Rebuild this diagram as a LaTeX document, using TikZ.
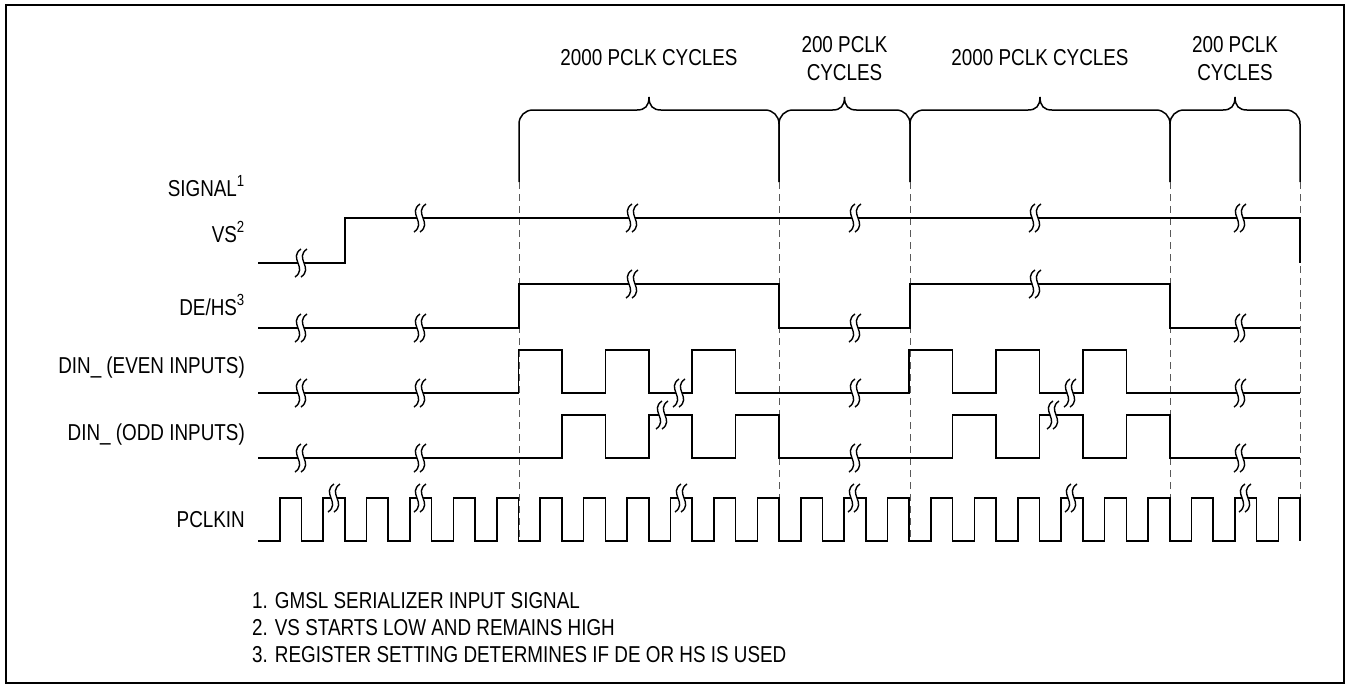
\documentclass[tikz,border=0pt]{standalone}
\usepackage{fontspec}
\setmainfont{Liberation Sans}[FakeStretch=0.82]
\usepackage{tikz}
\newcommand{\pclk}{43.417}

\tikzset{
    wbreak/.pic={
        \fill [white] (0,-14) .. controls (-13,-5) and (7,5) .. (-6,14) -- (0,14) .. controls (13,5) and (-7,-5) .. (6,-14) -- cycle;
        \draw [line width=1.4pt] (0,-14) .. controls (-13,-5) and (7,5) .. (-6,14);
        \draw [line width=1.4pt] (6,-14) .. controls (-7,-5) and (13,5) .. (0,14);
    }
}

\begin{document}
\begin{tikzpicture}[x=1pt, y=-1pt, font=\fontsize{23}{28}\selectfont,
        wave/.style={line width=1.6pt},
        guide/.style={dash pattern=on 7pt off 5pt, line width=1pt, black!65},
        lbl/.style={anchor=base east, inner sep=0pt},
        note/.style={anchor=base west, inner sep=0pt}]
        \useasboundingbox (0, 0) rectangle (1351, 689);
        \draw [line width=2pt] (6, 5) rectangle (1344, 683);

        \foreach \a/\b in {519/779, 779/910, 910/1170, 1170/1300} {
            \pgfmathsetmacro{\m}{(\a+\b)/2}
            \draw [line width=1.5pt] (\a, 182) -- (\a, 124) .. controls (\a, 116) and ({\a+6}, 110) .. ({\a+14}, 110) -- ({\m-12}, 110) .. controls ({\m-4}, 110) and (\m, 106) .. (\m, 97) .. controls (\m, 106) and ({\m+4}, 110) .. ({\m+12}, 110) -- ({\b-14}, 110) .. controls ({\b-6}, 110) and (\b, 116) .. (\b, 124) -- (\b, 182);
            };
        \foreach \x in {519, 779, 910, 1170, 1300} {
            \draw [guide] (\x, 182) -- (\x, 541);
            };

        \node [anchor=base] (long1) at (649, 65) {2000 PCLK CYCLES};
        \node [anchor=south, align=center, inner sep=0pt] (short1) at (844.5, 81) {200 PCLK\\CYCLES};
        \node [anchor=base] (long2) at (1040, 65) {2000 PCLK CYCLES};
        \node [anchor=south, align=center, inner sep=0pt] (short2) at (1235, 81) {200 PCLK\\CYCLES};

        \node [lbl] (sig) at (245, 196) {SIGNAL\textsuperscript{1}};
        \node [lbl] (vs) at (245, 242) {VS\textsuperscript{2}};
        \node [lbl] (de) at (245, 315) {DE/HS\textsuperscript{3}};
        \node [lbl] (even) at (245, 373) {DIN\_ (EVEN INPUTS)};
        \node [lbl] (odd) at (245, 440) {DIN\_ (ODD INPUTS)};
        \node [lbl] (clk) at (245, 527) {PCLKIN};

        \draw [wave] (258, 263) -- (345, 263) -- (345, 218) -- (1300, 218) -- (1300, 263);
        \draw [wave] (258, 328) -- (519, 328) -- (519, 284) -- (779, 284) -- (779, 328) -- (910, 328) -- (910, 284) -- (1170, 284) -- (1170, 328) -- (1300, 328);
        \draw [wave] (258, 393) \foreach \k in {6, 8, 10, 15, 17, 19} { -- ({258+\k*\pclk}, 393) -- ++(0, -43) -- ++(\pclk, 0) -- ++(0, 43) } -- (1300, 393);
        \draw [wave] (258, 458) \foreach \k in {7, 9, 11, 16, 18, 20} { -- ({258+\k*\pclk}, 458) -- ++(0, -43) -- ++(\pclk, 0) -- ++(0, 43) } -- (1300, 458);
        \draw [wave] (258, 541) \foreach \k in {0,...,23} { -- ({258+(\k+0.5)*\pclk}, 541) -- ++(0, -43) -- ++({\pclk/2}, 0) -- ++(0, 43) };

        \foreach \bx/\by in {301/263, 420/218, 632/218, 855/218, 1035/218, 1240/218,
                301/328, 420/328, 632/284, 855/328, 1035/284, 1240/328,
                301/393, 420/393, 679/393, 855/393, 1070/393, 1240/393,
                301/458, 420/458, 662/415, 855/458, 1053/415, 1240/458,
                334/498, 420/498, 681/498, 854/498, 1071/498, 1245/498} {
            \pic at (\bx, \by) {wbreak};
            };

        \node [note] (n1) at (252, 608) {1. GMSL SERIALIZER INPUT SIGNAL};
        \node [note] (n2) at (252, 635) {2. VS STARTS LOW AND REMAINS HIGH};
        \node [note] (n3) at (252, 662) {3. REGISTER SETTING DETERMINES IF DE OR HS IS USED};
    \end{tikzpicture}
\end{document}
